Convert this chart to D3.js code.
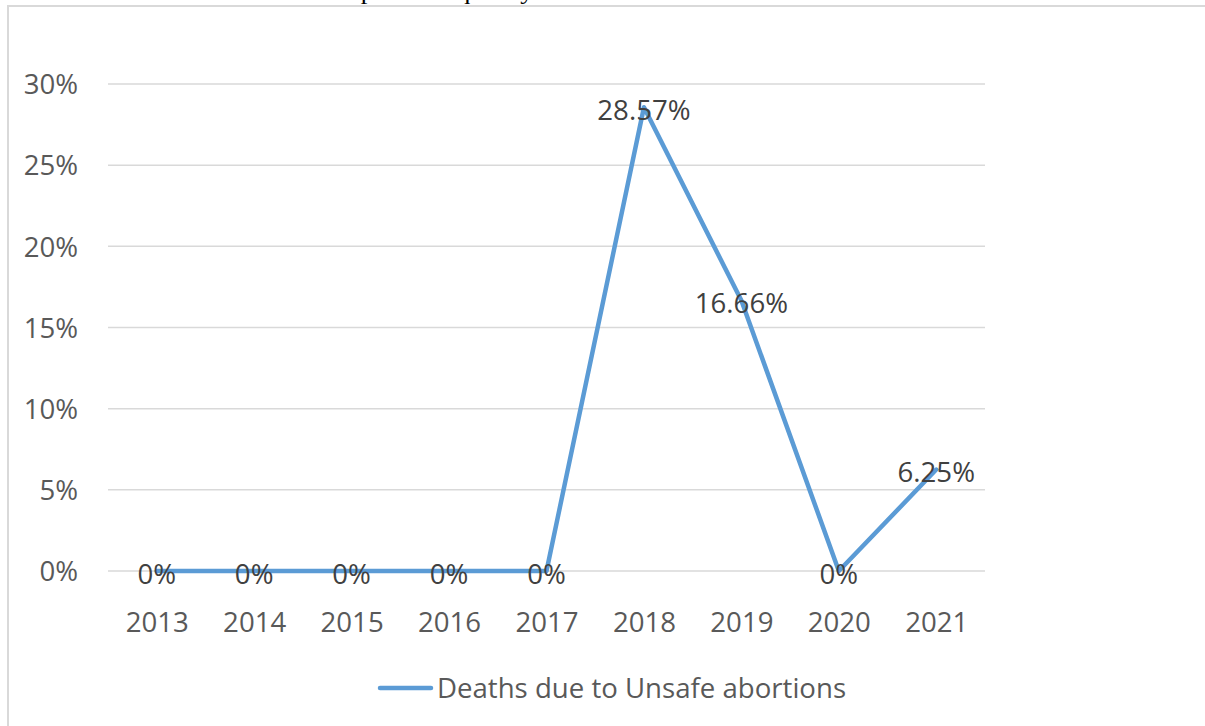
<!DOCTYPE html>
<html><head><meta charset="utf-8">
<script src="https://cdn.jsdelivr.net/npm/d3@7"></script>
<style>body{margin:0;background:#fff}svg{display:block}</style>
</head><body>
<svg id="c" width="1205" height="726"></svg>
<script>
const years = ["2013","2014","2015","2016","2017","2018","2019","2020","2021"];
const deaths = [0,0,0,0,0,28.57,16.66,0,6.25];
const valueLabels = ["0%","0%","0%","0%","0%","28.57%","16.66%","0%","6.25%"];
const yTicks = [0,5,10,15,20,25,30];
const seriesName = "Deaths due to Unsafe abortions";
const title = "Graph 3: Frequency of deaths due to Unsafe abortions";

const svg = d3.select("#c");
const font = "'Open Sans', 'Noto Sans', sans-serif";
const fs = 27.6;

// frame
svg.append("path").attr("d","M8,730 V6 H1210").attr("fill","none").attr("stroke","#d9d9d9").attr("stroke-width",2);

// title (cut off at top, as in the reference)
svg.append("text").attr("x",609).attr("y",-1.5).attr("text-anchor","middle")
  .attr("font-family","'Liberation Serif', serif").attr("font-size",24).attr("fill","#000")
  .attr("textLength",576).attr("lengthAdjust","spacingAndGlyphs").text(title);

const x = d3.scalePoint().domain(years).range([108,985]).padding(0.5);
const y = d3.scaleLinear().domain([0,30]).range([571,84]);

// gridlines
svg.append("g").selectAll("line").data(yTicks).join("line")
  .attr("x1",108).attr("x2",985).attr("y1",d=>y(d)).attr("y2",d=>y(d))
  .attr("stroke","#d9d9d9").attr("stroke-width",1.5);

// y axis labels
const yAxis = d3.axisLeft(y).tickValues(yTicks).tickFormat(d=>d+"%").tickSize(0).tickPadding(0);
const gy = svg.append("g").attr("transform","translate(78,0)").call(yAxis);
gy.select(".domain").remove();
gy.selectAll("text").attr("font-family",font).attr("font-size",fs).attr("fill","#595959").attr("dy","0.35em");

// x axis labels
const xAxis = d3.axisBottom(x).tickSize(0).tickPadding(0);
const gx = svg.append("g").attr("transform","translate(0,622)").call(xAxis);
gx.select(".domain").remove();
gx.selectAll("text").attr("font-family",font).attr("font-size",fs).attr("fill","#595959").attr("dy","0.35em");

// line
const line = d3.line().x((d,i)=>x(years[i])).y(d=>y(d));
svg.append("path").datum(deaths).attr("d",line).attr("fill","none")
  .attr("stroke","#5b9bd5").attr("stroke-width",4.5).attr("stroke-linejoin","round").attr("stroke-linecap","round");

// data labels
svg.append("g").selectAll("text").data(deaths).join("text")
  .attr("x",(d,i)=>x(years[i])).attr("y",d=>y(d)+3).attr("dy","0.35em")
  .attr("text-anchor","middle").attr("font-family",font).attr("font-size",fs).attr("fill","#404040")
  .text((d,i)=>valueLabels[i]);

// legend
svg.append("line").attr("x1",380).attr("x2",431).attr("y1",688).attr("y2",688)
  .attr("stroke","#5b9bd5").attr("stroke-width",4.5).attr("stroke-linecap","round");
svg.append("text").attr("x",437).attr("y",688).attr("dy","0.35em").attr("font-family",font)
  .attr("font-size",fs).attr("fill","#595959").text(seriesName);
</script>
</body></html>
